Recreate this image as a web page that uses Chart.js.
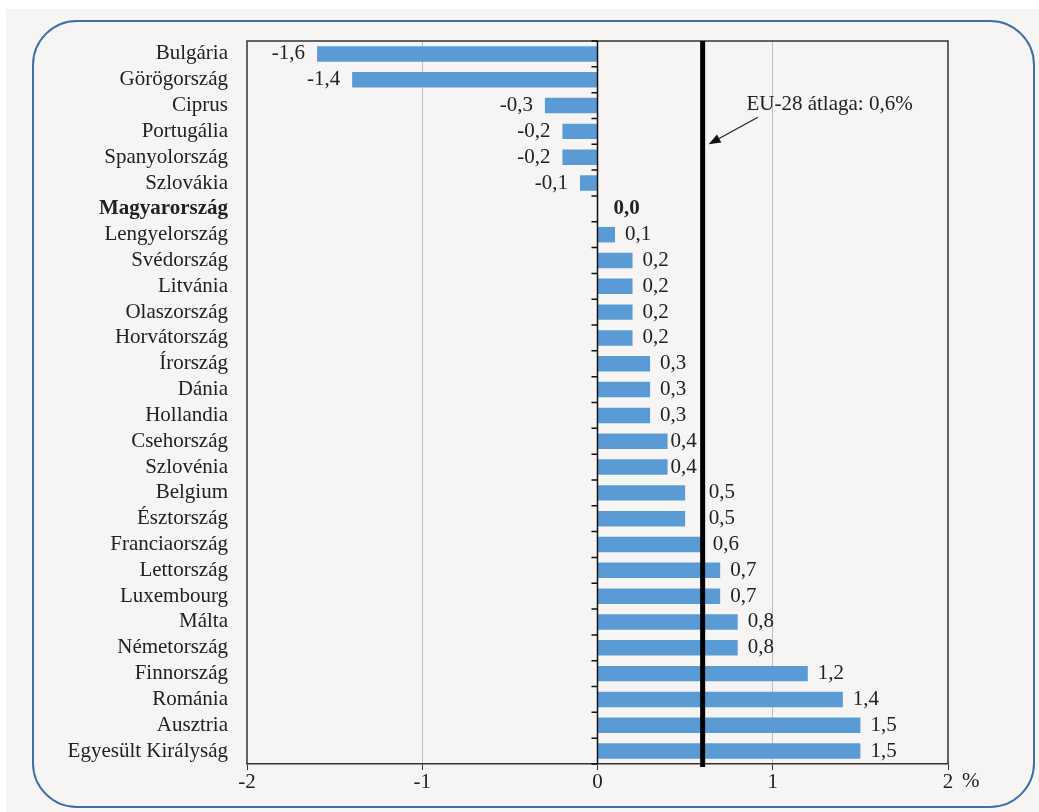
<!DOCTYPE html>
<html lang="hu">
<head>
    <meta charset="UTF-8">
    <title>EU-28 átlaga</title>
    <script src="https://cdn.jsdelivr.net/npm/chart.js"></script>
    <style>
        body { margin: 0; background: #ffffff; }
        #wrap { width: 1039px; height: 812px; }
    </style>
</head>
<body>
    <div id="wrap"><canvas id="chart" width="1039" height="812"></canvas></div>
    <script>
        const countries = ['Bulgária', 'Görögország', 'Ciprus', 'Portugália', 'Spanyolország', 'Szlovákia',
            'Magyarország', 'Lengyelország', 'Svédország', 'Litvánia', 'Olaszország', 'Horvátország',
            'Írország', 'Dánia', 'Hollandia', 'Csehország', 'Szlovénia', 'Belgium', 'Észtország',
            'Franciaország', 'Lettország', 'Luxembourg', 'Málta', 'Németország', 'Finnország',
            'Románia', 'Ausztria', 'Egyesült Királyság'];
        const values = [-1.6, -1.4, -0.3, -0.2, -0.2, -0.1, 0.0, 0.1, 0.2, 0.2, 0.2, 0.2, 0.3, 0.3, 0.3,
            0.4, 0.4, 0.5, 0.5, 0.6, 0.7, 0.7, 0.8, 0.8, 1.2, 1.4, 1.5, 1.5];
        const highlight = 'Magyarország';
        const euAverage = 0.6;
        const euLabel = 'EU-28 átlaga: 0,6%';
        const xTicks = [-2, -1, 0, 1, 2];
        const unitLabel = '%';

        const serif = '"Liberation Serif", "Times New Roman", serif';
        const fs = 21;
        const fmt = v => v.toFixed(1).replace('.', ',');

        const decor = {
            id: 'decor',
            beforeDraw(chart) {
                const c = chart.ctx;
                c.save();
                c.fillStyle = '#f6f5f3';
                c.fillRect(6, 9, 1033, 803);
                // rounded frame
                const x0 = 33, y0 = 21, x1 = 1034, y1 = 807, r = 44;
                c.beginPath();
                c.moveTo(x0 + r, y0);
                c.lineTo(x1 - r, y0);
                c.arcTo(x1, y0, x1, y0 + r, r);
                c.lineTo(x1, y1 - r);
                c.arcTo(x1, y1, x1 - r, y1, r);
                c.lineTo(x0 + r, y1);
                c.arcTo(x0, y1, x0, y1 - r, r);
                c.lineTo(x0, y0 + r);
                c.arcTo(x0, y0, x0 + r, y0, r);
                c.closePath();
                c.strokeStyle = '#3d70a8';
                c.lineWidth = 2;
                c.stroke();
                c.restore();
            },
            afterDatasetsDraw(chart) {
                const c = chart.ctx;
                const a = chart.chartArea;
                const xs = chart.scales.x, ys = chart.scales.y;
                c.save();
                // plot box
                c.strokeStyle = '#333';
                c.lineWidth = 1.5;
                c.beginPath();
                c.moveTo(a.left, a.bottom);
                c.lineTo(a.left, a.top);
                c.lineTo(a.right, a.top);
                c.lineTo(a.right, a.bottom);
                c.stroke();
                // zero line with category ticks
                const x0 = xs.getPixelForValue(0);
                c.strokeStyle = '#111';
                c.beginPath();
                c.moveTo(x0, a.top);
                c.lineTo(x0, a.bottom);
                for (let i = 0; i <= countries.length; i++) {
                    const yy = ys.getPixelForValue(i - 0.5);
                    c.moveTo(x0 - 6, yy);
                    c.lineTo(x0, yy);
                }
                c.stroke();
                // EU average line
                const xe = xs.getPixelForValue(euAverage);
                c.strokeStyle = '#000';
                c.lineWidth = 5;
                c.beginPath();
                c.moveTo(xe, a.top);
                c.lineTo(xe, a.bottom + 3);
                c.stroke();
                // value labels
                const meta = chart.getDatasetMeta(0);
                c.fillStyle = '#222';
                c.textBaseline = 'middle';
                meta.data.forEach((bar, i) => {
                    const v = values[i];
                    const bold = countries[i] === highlight;
                    c.font = (bold ? 'bold ' : '') + fs + 'px ' + serif;
                    const txt = fmt(v);
                    if (v < 0) {
                        c.textAlign = 'right';
                        c.fillText(txt, bar.x - 12, bar.y);
                    } else {
                        c.textAlign = 'left';
                        const w = c.measureText(txt).width;
                        let s = bar.x + (v === 0 ? 16 : 10);
                        // keep labels off the average line
                        if (s < xe + 3 && s + w > xe - 3) {
                            s = (bar.x + 3 + w <= xe - 3) ? bar.x + 3 : xe + 6;
                        }
                        c.fillText(txt, s, bar.y);
                    }
                });
                // annotation
                c.font = fs + 'px ' + serif;
                c.textAlign = 'left';
                c.fillText(euLabel, xs.getPixelForValue(0.85), ys.getPixelForValue(2) - 1);
                const sx = xs.getPixelForValue(0.915), sy = ys.getPixelForValue(2.45);
                const tx = xe + 6, ty = ys.getPixelForValue(3.5);
                const ang = Math.atan2(ty - sy, tx - sx);
                const hl = 12, hw = 4.5;
                const bx = tx - hl * Math.cos(ang), by = ty - hl * Math.sin(ang);
                c.strokeStyle = '#222';
                c.lineWidth = 1.2;
                c.beginPath();
                c.moveTo(sx, sy);
                c.lineTo(bx, by);
                c.stroke();
                c.fillStyle = '#111';
                c.beginPath();
                c.moveTo(tx, ty);
                c.lineTo(bx + hw * Math.sin(ang), by - hw * Math.cos(ang));
                c.lineTo(bx - hw * Math.sin(ang), by + hw * Math.cos(ang));
                c.closePath();
                c.fill();
                // unit
                c.fillStyle = '#222';
                c.textAlign = 'left';
                c.fillText(unitLabel, xs.getPixelForValue(2) + 14, a.bottom + 17);
                c.restore();
            }
        };

        new Chart(document.getElementById('chart'), {
            type: 'bar',
            data: {
                labels: countries,
                datasets: [{
                    data: values,
                    backgroundColor: '#5b9bd5',
                    barPercentage: 0.6,
                    categoryPercentage: 1.0
                }]
            },
            options: {
                indexAxis: 'y',
                responsive: false,
                devicePixelRatio: 1,
                animation: false,
                layout: { padding: { left: 0, top: 41, right: 91, bottom: 0 } },
                plugins: { legend: { display: false }, tooltip: { enabled: false } },
                scales: {
                    x: {
                        min: -2,
                        max: 2,
                        afterBuildTicks: s => { s.ticks = xTicks.map(v => ({ value: v })); },
                        afterFit: s => { s.height = 48; },
                        ticks: {
                            color: '#222',
                            font: { family: serif, size: fs },
                            padding: 0,
                            callback: v => String(v)
                        },
                        grid: {
                            color: ctx => (ctx.tick && Math.abs(ctx.tick.value) === 1) ? '#bdbdbd' : 'rgba(0,0,0,0)',
                            lineWidth: 1,
                            tickColor: '#333',
                            tickLength: 6
                        },
                        border: { color: '#333', width: 1.5 }
                    },
                    y: {
                        afterFit: s => { s.width = 247; },
                        grid: { display: false, drawTicks: false },
                        border: { display: false },
                        ticks: {
                            color: '#222',
                            padding: 19,
                            autoSkip: false,
                            font: ctx => ({
                                family: serif,
                                size: fs,
                                weight: countries[ctx.index] === highlight ? 'bold' : 'normal'
                            })
                        }
                    }
                }
            },
            plugins: [decor]
        });
    </script>
</body>
</html>
